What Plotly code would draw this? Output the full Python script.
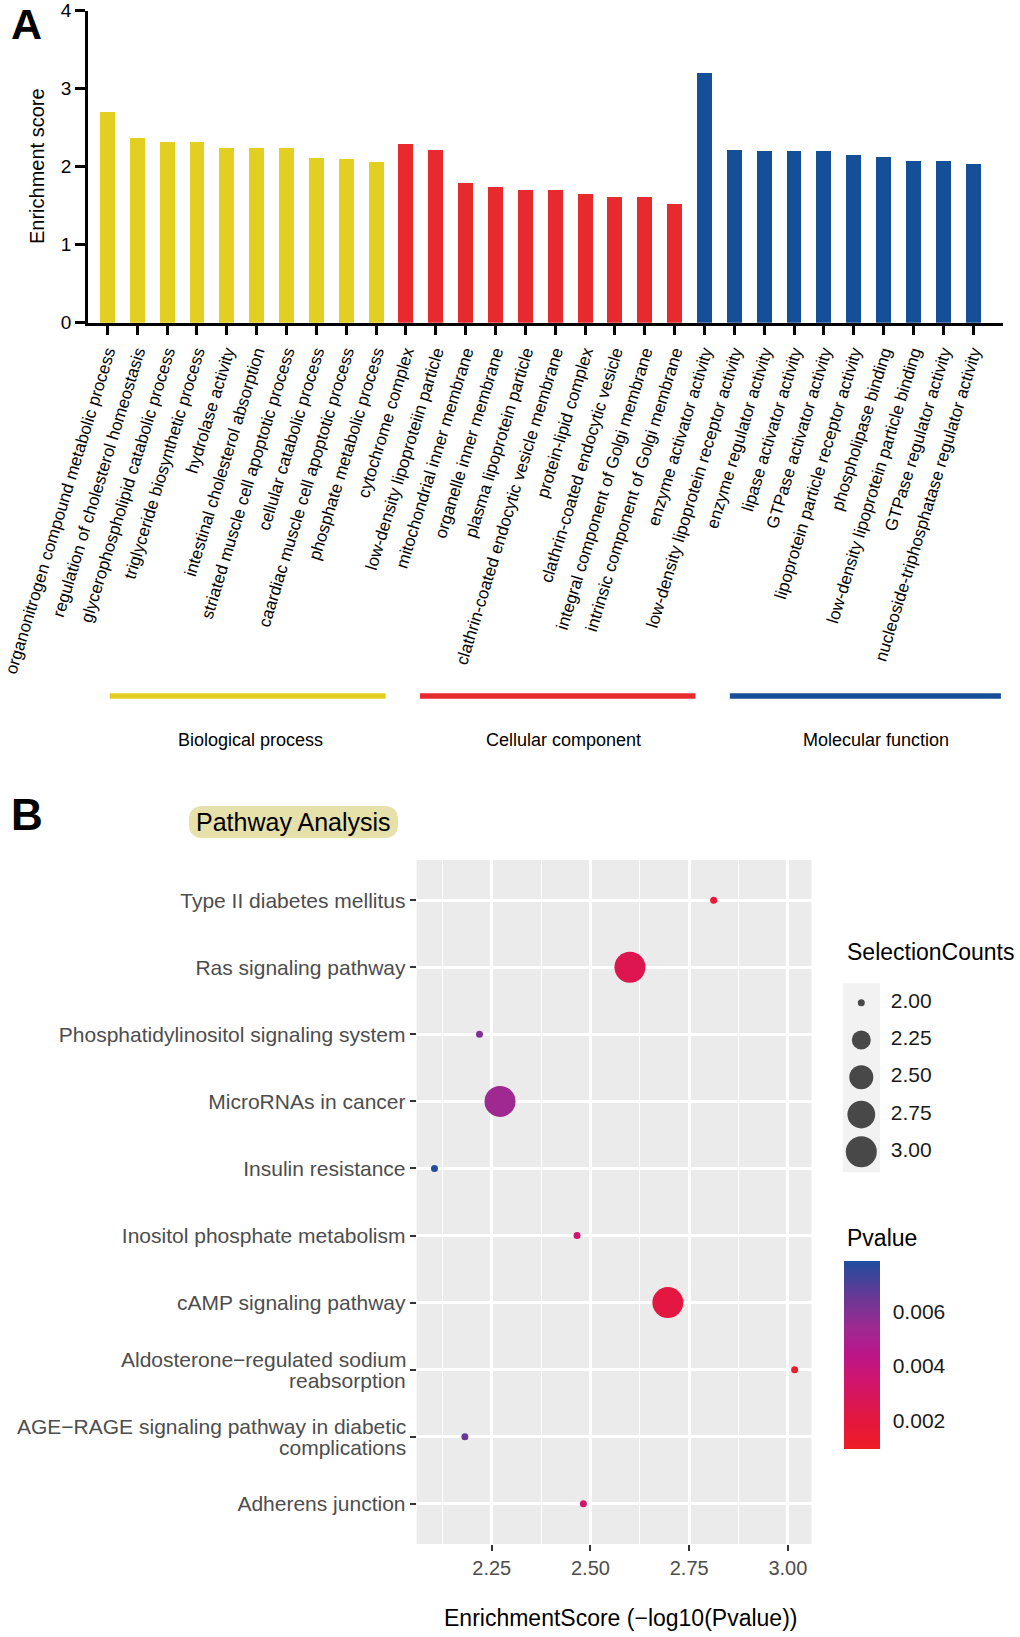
import plotly.graph_objects as go

W, H = 1020, 1637
FONT = "Liberation Sans, Arial, Helvetica, sans-serif"


def px(x):
    return x / W


def py(y):
    return 1 - y / H


# ---------------- Panel A data ----------------
go_terms = [
    "organonitrogen compound metabolic process",
    "regulation of cholesterol homeostasis",
    "glycerophospholipid catabolic process",
    "triglyceride biosynthetic process",
    "hydrolase activity",
    "intestinal cholesterol absorption",
    "striated muscle cell apoptotic process",
    "cellular catabolic process",
    "caardiac muscle cell apoptotic process",
    "phosphate metabolic process",
    "cytochrome complex",
    "low-density lipoproteiin particle",
    "mitochondrial inner membrane",
    "organelle inner membrane",
    "plasma lipoprotein particle",
    "clathrin-coated endocytic vesicle membrane",
    "protein-lipid complex",
    "clathrin-coated endocytic vesicle",
    "integral component of Golgi membrane",
    "intrinsic component of Golgi membrane",
    "enzyme activator activity",
    "low-density lipoprotein receptor activity",
    "enzyme regulator activity",
    "lipase activator activity",
    "GTPase activator activity",
    "lipoprotein particle receptor activity",
    "phospholipase binding",
    "low-density lipoprotein particle binding",
    "GTPase regulator activity",
    "nucleoside-triphosphatase regulator activity",
]
go_scores = [2.71, 2.37, 2.32, 2.32, 2.24, 2.24, 2.24, 2.12, 2.10, 2.06,
             2.29, 2.22, 1.79, 1.74, 1.70, 1.70, 1.66, 1.62, 1.62, 1.53,
             3.21, 2.22, 2.20, 2.20, 2.20, 2.15, 2.13, 2.08, 2.08, 2.04]
group_names = ["Biological process", "Cellular component", "Molecular function"]
group_sizes = [10, 10, 10]
group_colors = ["#E2CF22", "#E62A2E", "#154F97"]
score_ticks = [0, 1, 2, 3, 4]

# ---------------- Panel B data ----------------
pathways = [
    "Type II diabetes mellitus",
    "Ras signaling pathway",
    "Phosphatidylinositol signaling system",
    "MicroRNAs in cancer",
    "Insulin resistance",
    "Inositol phosphate metabolism",
    "cAMP signaling pathway",
    "Aldosterone−regulated sodium reabsorption",
    "AGE−RAGE signaling pathway in diabetic complications",
    "Adherens junction",
]
# label lines per pathway (two-line labels are wrapped as in the figure)
pathway_label_lines = [
    ["Type II diabetes mellitus"],
    ["Ras signaling pathway"],
    ["Phosphatidylinositol signaling system"],
    ["MicroRNAs in cancer"],
    ["Insulin resistance"],
    ["Inositol phosphate metabolism"],
    ["cAMP signaling pathway"],
    ["Aldosterone−regulated sodium", "reabsorption"],
    ["AGE−RAGE signaling pathway in diabetic", "complications"],
    ["Adherens junction"],
]
enrichment = [2.812, 2.600, 2.219, 2.271, 2.105, 2.466, 2.696, 3.017, 2.182, 2.482]
selection_counts = [2, 3, 2, 3, 2, 2, 3, 2, 2, 2]
pvalues = [0.00154, 0.00251, 0.00604, 0.00536, 0.00785, 0.00342, 0.00201, 0.00096, 0.00658, 0.00330]
x_ticks = [2.25, 2.50, 2.75, 3.00]
x_ticktext = ["2.25", "2.50", "2.75", "3.00"]
x_minor = [2.125, 2.375, 2.625, 2.875]
size_breaks = [2.00, 2.25, 2.50, 2.75, 3.00]
size_break_labels = ["2.00", "2.25", "2.50", "2.75", "3.00"]
p_ticks = [0.002, 0.004, 0.006]
p_ticktext = ["0.002", "0.004", "0.006"]

colorscale = [
    [0.0, "#EE1C25"],
    [0.15, "#E3173E"],
    [0.35, "#D2156B"],
    [0.5, "#BC1589"],
    [0.65, "#9C2B91"],
    [0.8, "#6C3795"],
    [1.0, "#204D9E"],
]

DMIN, DMAX = 7.0, 31.0
smin, smax = min(size_breaks), max(size_breaks)


def diam(v):
    return DMIN + (DMAX - DMIN) * ((v - smin) / (smax - smin)) ** 0.5


fig = go.Figure()

# ---- Panel A bars ----
bar_colors = []
for c, n in zip(group_colors, group_sizes):
    bar_colors += [c] * n

fig.add_trace(go.Bar(
    x=go_terms, y=go_scores, width=0.5,
    marker=dict(color=bar_colors, line=dict(width=0)),
    xaxis="x", yaxis="y", showlegend=False,
))

# ---- Panel B points ----
CB_TOP, CB_LEN, CB_LEFT, CB_THICK = 1261, 188.3, 844.3, 36.4
pmin, pmax = min(pvalues), max(pvalues)
fig.add_trace(go.Scatter(
    x=enrichment, y=pathways, mode="markers",
    marker=dict(
        size=[diam(c) for c in selection_counts],
        color=pvalues, colorscale=colorscale,
        cmin=pmin, cmax=pmax,
        line=dict(width=0), opacity=1,
        colorbar=dict(
            x=px(CB_LEFT), xanchor="left", y=py(CB_TOP), yanchor="top",
            lenmode="pixels", len=CB_LEN, thicknessmode="pixels", thickness=CB_THICK,
            xpad=0, ypad=0, outlinewidth=0,
            tickvals=p_ticks, ticktext=p_ticktext,
            ticks="outside", ticklen=9, tickcolor="rgba(0,0,0,0)",
            tickfont=dict(family=FONT, size=21, color="#1a1a1a"),
        ),
    ),
    xaxis="x2", yaxis="y2", showlegend=False,
))

# ---- Size legend (drawn on its own hidden axes) ----
fig.add_trace(go.Scatter(
    x=[18.6] * len(size_breaks), y=list(range(len(size_breaks))), mode="markers",
    marker=dict(size=[diam(v) for v in size_breaks], color="black", line=dict(width=0)),
    xaxis="x3", yaxis="y3", showlegend=False, hoverinfo="skip",
))
fig.add_trace(go.Scatter(
    x=[48] * len(size_breaks), y=list(range(len(size_breaks))), mode="text",
    text=size_break_labels, textposition="middle right",
    textfont=dict(family=FONT, size=21, color="#1a1a1a"),
    xaxis="x3", yaxis="y3", showlegend=False, hoverinfo="skip",
))

single_ticktext = [lines[0] if len(lines) == 1 else "" for lines in pathway_label_lines]

n_terms = len(go_terms)
fig.update_layout(
    width=W, height=H,
    margin=dict(l=0, r=0, t=0, b=0),
    paper_bgcolor="white", plot_bgcolor="rgba(0,0,0,0)",
    font=dict(family=FONT, color="black"),
    bargap=0,
    xaxis=dict(
        domain=[px(88), px(1003)], anchor="y",
        type="category", categoryarray=go_terms, range=[-0.65, n_terms - 0.0],
        showline=True, linecolor="black", linewidth=2.5,
        ticks="outside", ticklen=10, tickwidth=2.5, tickcolor="black",
        tickangle=-73, tickfont=dict(family=FONT, size=17, color="black"),
        showgrid=False, zeroline=False, automargin=False,
    ),
    yaxis=dict(
        domain=[py(322.7), py(10.7)], anchor="x",
        range=[0, 4], tickvals=score_ticks,
        showline=True, linecolor="black", linewidth=2.5,
        ticks="outside", ticklen=10, tickwidth=2.5, tickcolor="black",
        tickfont=dict(family=FONT, size=19, color="black"),
        showgrid=False, zeroline=False, automargin=False,
    ),
    xaxis2=dict(
        domain=[px(416.7), px(811.6)], anchor="y2",
        range=[2.06, 3.06], tickvals=x_ticks, ticktext=x_ticktext,
        ticks="outside", ticklen=6, tickwidth=1.5, tickcolor="#333333",
        tickfont=dict(family=FONT, size=20, color="#4D4D4D"),
        showgrid=True, gridcolor="white", gridwidth=2.5,
        minor=dict(tickvals=x_minor, showgrid=True, gridcolor="white", gridwidth=1.2, ticks=""),
        showline=False, zeroline=False, automargin=False,
    ),
    yaxis2=dict(
        domain=[py(1544), py(860)], anchor="x2",
        type="category", categoryarray=pathways,
        range=[len(pathways) - 1 + 0.6, -0.6],
        tickvals=pathways, ticktext=single_ticktext,
        ticks="outside", ticklen=6, tickwidth=1.5, tickcolor="#333333",
        tickfont=dict(family=FONT, size=21, color="#4D4D4D"),
        showgrid=True, gridcolor="white", gridwidth=2.5,
        showline=False, zeroline=False, automargin=False,
    ),
    xaxis3=dict(
        domain=[px(842.7), px(962.7)], anchor="y3", range=[0, 120],
        visible=False, fixedrange=True,
    ),
    yaxis3=dict(
        domain=[py(1172.3), py(983.3)], anchor="x3",
        range=[len(size_breaks) - 1 + 0.55, -0.52],
        visible=False, fixedrange=True,
    ),
)

shapes = []
# Panel B background
shapes.append(dict(type="rect", xref="x2 domain", yref="y2 domain", x0=0, x1=1, y0=0, y1=1,
                   fillcolor="#EBEBEB", line=dict(width=0), layer="below"))
# Size legend key background
shapes.append(dict(type="rect", xref="paper", yref="paper", x0=px(842.7), x1=px(880),
                   y0=py(1172.3), y1=py(983.3), fillcolor="#F2F2F2", line=dict(width=0), layer="below"))

# white tick marks on both edges of the colour bar
for p in p_ticks:
    yy = py(CB_TOP + CB_LEN * (1 - (p - pmin) / (pmax - pmin)))
    for xa, xb in [(CB_LEFT, CB_LEFT + 6), (CB_LEFT + CB_THICK - 6, CB_LEFT + CB_THICK)]:
        shapes.append(dict(type="line", xref="paper", yref="paper", x0=px(xa), x1=px(xb),
                           y0=yy, y1=yy, line=dict(color="white", width=1.5)))

# Group lines under panel A
shift_s = [0.08, 0.47, 0.85]
shift_e = [0.32, 0.70, 0.93]
label_shift = [0.30, 0.78, 1.23]
annotations = []
start = 0
for g, (name, n, col) in enumerate(zip(group_names, group_sizes, group_colors)):
    first, last = start, start + n - 1
    shapes.append(dict(type="line", xref="x", yref="paper",
                       x0=first + shift_s[g], x1=last + shift_e[g], y0=py(696), y1=py(696),
                       line=dict(color=col, width=5.5)))
    annotations.append(dict(xref="x", yref="paper", x=(first + last) / 2 + label_shift[g], y=py(740),
                            text=name, showarrow=False, xanchor="center", yanchor="middle",
                            font=dict(family=FONT, size=18, color="black")))
    start += n

# two-line pathway labels (tight line spacing as in the figure)
for name, lines in zip(pathways, pathway_label_lines):
    if len(lines) == 2:
        for ln, shift in zip(lines, [10.5, -10.5]):
            annotations.append(dict(xref="paper", yref="y2", x=px(408), y=name, yshift=shift,
                                    text=ln, showarrow=False, xanchor="right", yanchor="middle",
                                    font=dict(family=FONT, size=21, color="#4D4D4D")))

# Pathway Analysis pill
x0p, x1p, y0p, y1p, r = 189, 398, 806, 838, 14
path = (f"M {px(x0p + r)},{py(y0p)} L {px(x1p - r)},{py(y0p)} "
        f"Q {px(x1p)},{py(y0p)} {px(x1p)},{py(y0p + r)} L {px(x1p)},{py(y1p - r)} "
        f"Q {px(x1p)},{py(y1p)} {px(x1p - r)},{py(y1p)} L {px(x0p + r)},{py(y1p)} "
        f"Q {px(x0p)},{py(y1p)} {px(x0p)},{py(y1p - r)} L {px(x0p)},{py(y0p + r)} "
        f"Q {px(x0p)},{py(y0p)} {px(x0p + r)},{py(y0p)} Z")
shapes.append(dict(type="path", xref="paper", yref="paper", path=path,
                   fillcolor="#E6E0AA", line=dict(width=0), layer="below"))

annotations += [
    dict(xref="paper", yref="paper", x=px(26), y=py(24), text="<b>A</b>", showarrow=False,
         xanchor="center", yanchor="middle", font=dict(family=FONT, size=43, color="black")),
    dict(xref="paper", yref="paper", x=px(37), y=py(166), text="Enrichment score", showarrow=False,
         textangle=-90, xanchor="center", yanchor="middle", font=dict(family=FONT, size=20, color="black")),
    dict(xref="paper", yref="paper", x=px(27), y=py(815), text="<b>B</b>", showarrow=False,
         xanchor="center", yanchor="middle", font=dict(family=FONT, size=44, color="black")),
    dict(xref="paper", yref="paper", x=px(293.5), y=py(822), text="Pathway Analysis", showarrow=False,
         xanchor="center", yanchor="middle", font=dict(family=FONT, size=25, color="black")),
    dict(xref="paper", yref="paper", x=px(845), y=py(952), text="SelectionCounts", showarrow=False,
         xanchor="left", yanchor="middle", font=dict(family=FONT, size=23, color="black")),
    dict(xref="paper", yref="paper", x=px(845), y=py(1238), text="Pvalue", showarrow=False,
         xanchor="left", yanchor="middle", font=dict(family=FONT, size=23, color="black")),
    dict(xref="paper", yref="paper", x=px(620), y=py(1618), text="EnrichmentScore (−log10(Pvalue))",
         showarrow=False, xanchor="center", yanchor="middle", font=dict(family=FONT, size=23, color="black")),
]

fig.update_layout(shapes=shapes, annotations=annotations)
fig.write_html("out.html", config={"displayModeBar": False},
               post_script="document.body.style.margin='0px';")
